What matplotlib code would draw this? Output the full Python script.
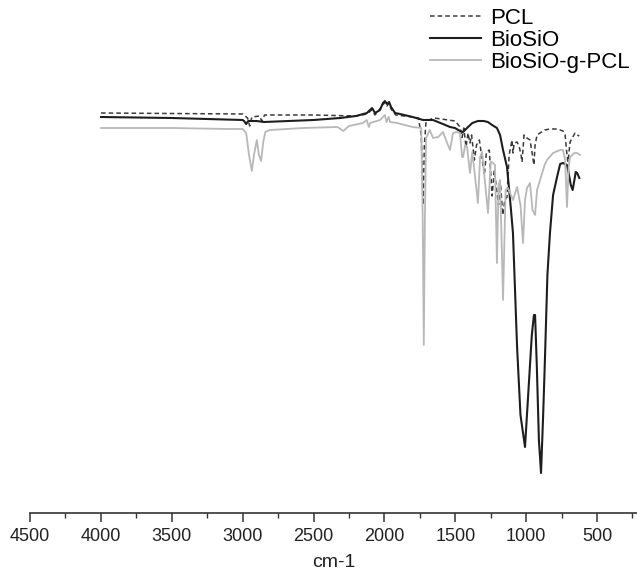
import matplotlib.pyplot as plt
from matplotlib.ticker import MultipleLocator

plt.rcParams['font.family'] = ['Liberation Sans', 'DejaVu Sans']

# PCL (dashed)
pcl_wn = [3999, 3000, 2965, 2950, 2935, 2880, 2865, 2845, 2500, 2200, 2123, 2090,
          2066, 2010, 1996, 1982, 1967, 1953, 1920, 1800, 1760, 1740, 1727, 1718,
          1706, 1650, 1600, 1500, 1467, 1452, 1440, 1424, 1410, 1396, 1385, 1365,
          1350, 1330, 1295, 1280, 1260, 1240, 1225, 1195, 1180, 1165, 1150, 1135,
          1120, 1100, 1093, 1085, 1064, 1050, 1036, 1029, 1015, 994, 973, 959,
          945, 937, 923, 902, 870, 830, 780, 740, 725, 712, 705, 690, 675, 655,
          640, 625]
pcl_t = [80.4, 80.2, 79.4, 77.8, 79.6, 79.8, 78.8, 80.0, 80.0, 79.8, 80.2, 81.0,
         80.0, 82.0, 82.6, 81.8, 82.4, 81.2, 80.0, 79.6, 79.4, 76.0, 62.0, 74.0,
         78.8, 79.4, 79.2, 78.8, 77.6, 75.5, 77.4, 73.6, 76.4, 74.4, 76.0, 71.0,
         74.0, 75.0, 68.0, 72.6, 73.0, 63.8, 69.0, 62.0, 66.0, 60.0, 63.0, 63.6,
         72.0, 75.0, 72.4, 74.4, 74.6, 73.8, 72.0, 70.6, 76.0, 75.4, 75.0, 72.6,
         70.0, 74.0, 76.0, 76.4, 77.0, 77.2, 77.2, 76.8, 76.0, 72.0, 70.6, 74.6,
         75.4, 76.4, 76.0, 75.8]

# BioSiO (solid black)
bio_wn = [3999, 3500, 3000, 2990, 2975, 2960, 2900, 2850, 2500, 2313, 2200, 2123,
          2087, 2066, 2031, 2010, 1996, 1982, 1967, 1953, 1925, 1890, 1800, 1727,
          1657, 1587, 1537, 1502, 1467, 1445, 1417, 1380, 1340, 1300, 1270, 1240,
          1206, 1184, 1163, 1135, 1110, 1093, 1064, 1040, 1008, 990, 960, 945,
          937, 925, 910, 895, 880, 867, 850, 832, 810, 782, 760, 740, 725, 712,
          700, 685, 672, 662, 650, 640, 625]
bio_t = [79.6, 79.4, 79.0, 78.8, 78.2, 78.8, 78.8, 78.6, 79.0, 79.4, 79.8, 80.4,
         81.4, 80.4, 81.0, 82.4, 82.8, 82.2, 82.6, 81.6, 80.4, 80.2, 79.6, 79.0,
         79.0, 78.2, 77.6, 77.4, 76.8, 76.6, 77.4, 78.4, 78.8, 78.8, 78.6, 78.0,
         77.4, 76.0, 73.0, 69.6, 62.0, 56.4, 33.6, 20.0, 13.6, 22.0, 36.0, 40.0,
         40.0, 30.0, 15.0, 8.4, 20.0, 31.6, 48.0, 56.4, 64.0, 67.6, 70.2, 70.4,
         70.2, 70.0, 68.4, 66.0, 65.0, 66.6, 68.6, 68.4, 67.4]

# BioSiO-g-PCL (light grey)
graft_wn = [3999, 3500, 3100, 3000, 2975, 2955, 2935, 2920, 2900, 2885, 2870, 2855,
            2840, 2807, 2574, 2330, 2300, 2290, 2250, 2151, 2125, 2110, 2100, 2031,
            2010, 1996, 1985, 1970, 1960, 1911, 1800, 1740, 1730, 1722, 1714, 1706,
            1680, 1657, 1620, 1587, 1560, 1537, 1516, 1490, 1467, 1452, 1445, 1430,
            1417, 1396, 1380, 1340, 1325, 1311, 1295, 1269, 1250, 1241, 1220, 1206,
            1195, 1184, 1163, 1145, 1128, 1093, 1064, 1040, 1022, 1008, 994, 973,
            955, 937, 923, 902, 870, 853, 810, 761, 740, 725, 712, 700, 690, 660,
            641, 620]
graft_t = [77.4, 77.4, 77.2, 77.2, 76.4, 72.0, 68.8, 72.0, 75.0, 72.0, 70.8, 74.5,
           76.6, 77.0, 77.4, 77.6, 77.0, 76.8, 77.8, 78.4, 79.0, 77.6, 78.4, 79.0,
           79.6, 80.0, 78.6, 79.6, 78.6, 78.4, 77.6, 77.4, 60.0, 34.0, 60.0, 75.4,
           77.0, 75.4, 75.6, 76.6, 74.6, 73.0, 76.4, 76.6, 76.4, 71.6, 71.6, 74.0,
           73.6, 68.4, 72.6, 62.4, 71.6, 72.6, 68.0, 60.4, 70.6, 70.6, 70.0, 50.4,
           66.0, 67.0, 43.0, 65.0, 65.4, 63.0, 65.6, 62.0, 54.4, 63.0, 65.4, 66.4,
           61.0, 60.0, 65.0, 67.0, 70.0, 71.0, 72.4, 73.0, 73.0, 71.0, 61.6, 69.6,
           71.6, 72.4, 72.4, 72.0]

fig = plt.figure(figsize=(6.37, 5.79), dpi=100)
ax = fig.add_axes([30 / 637, 66 / 579, 607 / 637, 513 / 579])

ax.plot(pcl_wn, pcl_t, color='#3a3a3a', lw=1.1, ls=(0, (3, 2)), label='PCL')
ax.plot(bio_wn, bio_t, color='#1e1e1e', lw=1.5, label='BioSiO')
ax.plot(graft_wn, graft_t, color='#b8b8b8', lw=1.3, label='BioSiO-g-PCL')

ax.set_xlim(4500, 218)
ax.set_ylim(0.4, 103.0)

# only the bottom axis is drawn
for side in ['top', 'left', 'right']:
    ax.spines[side].set_visible(False)
ax.spines['bottom'].set_color('#333333')
ax.spines['bottom'].set_linewidth(1.2)
ax.set_yticks([])
ax.xaxis.set_major_locator(MultipleLocator(500))
ax.xaxis.set_minor_locator(MultipleLocator(250))
ax.tick_params(axis='x', which='major', length=6.5, width=1.1, color='#333333',
               labelsize=13, pad=4, labelcolor='#222222')
ax.tick_params(axis='x', which='minor', length=3.6, width=1.0, color='#333333')

ax.set_xlabel('cm-1', fontsize=14, color='#222222', labelpad=7)

ax.legend(loc='upper left', bbox_to_anchor=(430 / 637, 1 - 8 / 579),
          bbox_transform=fig.transFigure, frameon=False,
          fontsize=16, handlelength=2.3, handletextpad=0.4, labelspacing=0.05,
          borderpad=0, borderaxespad=0)

fig.savefig('out.png', dpi=100)
